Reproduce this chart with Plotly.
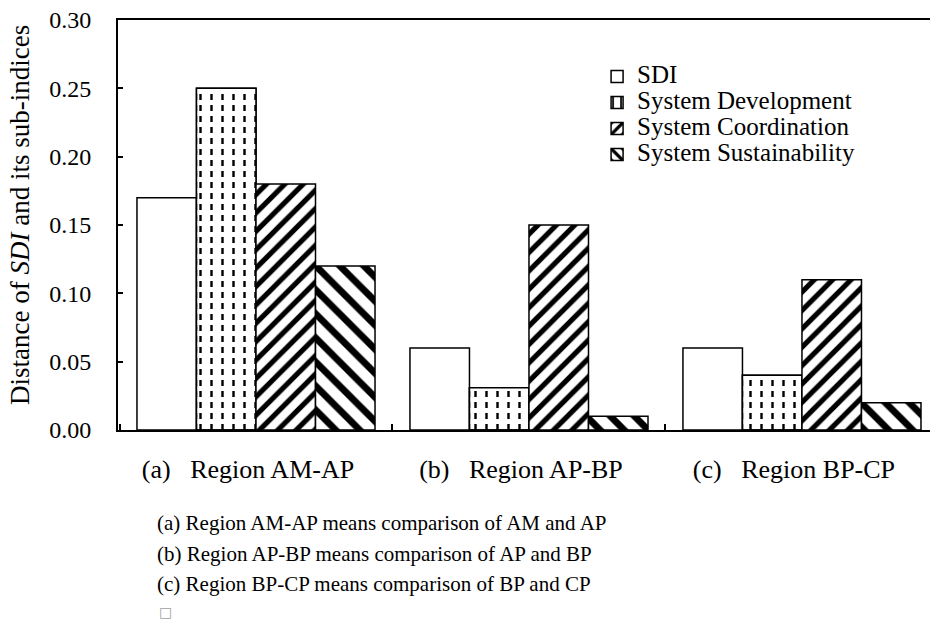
import plotly.graph_objects as go

categories = ["(a)\u00a0\u00a0\u00a0Region AM-AP", "(b)\u00a0\u00a0\u00a0Region AP-BP", "(c)\u00a0\u00a0\u00a0Region BP-CP"]
series_names = ["SDI", "System Development", "System Coordination", "System Sustainability"]
sdi = [0.17, 0.06, 0.06]
dev = [0.25, 0.031, 0.04]
coord = [0.18, 0.15, 0.11]
sust = [0.12, 0.01, 0.02]
notes = [
    "(a) Region AM-AP means comparison of AM and AP",
    "(b) Region AP-BP means comparison of AP and BP",
    "(c) Region BP-CP means comparison of BP and CP",
]

FONT = "Liberation Serif, Times New Roman, serif"
BW = 0.218
OFF0 = -2 * BW
LINE = dict(color="black", width=1.5)


def lg(name):
    return '<span style="font-size:25px">' + name + '</span>'


fig = go.Figure()
fig.add_trace(go.Bar(name=lg(series_names[0]), x=categories, y=sdi, width=BW, offset=OFF0,
                     marker=dict(color="white", line=LINE)))
fig.add_trace(go.Bar(name=lg(series_names[1]), x=categories, y=dev, width=BW, offset=OFF0 + BW,
                     marker=dict(color="white", line=LINE,
                                 pattern=dict(shape="|", size=11, solidity=0.22, fgcolor="black",
                                              bgcolor="white", fillmode="replace"))))
fig.add_trace(go.Bar(x=categories, y=dev, width=BW, offset=OFF0 + BW, showlegend=False,
                     marker=dict(color="white", line=dict(width=0),
                                 pattern=dict(shape="-", size=11, solidity=0.45, fgcolor="white",
                                              bgcolor="rgba(0,0,0,0)", fillmode="replace"))))
fig.add_trace(go.Bar(x=categories, y=dev, width=BW, offset=OFF0 + BW, showlegend=False,
                     marker=dict(color="rgba(0,0,0,0)", line=LINE)))
fig.add_trace(go.Bar(name=lg(series_names[2]), x=categories, y=coord, width=BW, offset=OFF0 + 2 * BW,
                     marker=dict(color="white", line=LINE,
                                 pattern=dict(shape="/", size=13, solidity=0.4, fgcolor="black",
                                              bgcolor="white", fillmode="replace"))))
fig.add_trace(go.Bar(name=lg(series_names[3]), x=categories, y=sust, width=BW, offset=OFF0 + 3 * BW,
                     marker=dict(color="white", line=LINE,
                                 pattern=dict(shape="\\", size=17, solidity=0.4, fgcolor="black",
                                              bgcolor="white", fillmode="replace"))))

fig.update_layout(
    width=930, height=623,
    margin=dict(l=118, r=0, t=20, b=193),
    barmode="overlay",
    plot_bgcolor="white", paper_bgcolor="white",
    font=dict(family=FONT, color="black", size=20),
    showlegend=True,
    legend=dict(x=0.590, y=0.906, xanchor="left", yanchor="top",
                bgcolor="rgba(0,0,0,0)", font=dict(family=FONT, size=17.7, color="black"),
                traceorder="normal"),
    hovermode=False,
)
fig.update_xaxes(
    range=[-0.5055, 2.469], showline=True, linecolor="black", linewidth=2, mirror=True,
    ticks="inside", tickson="boundaries", ticklen=6, tickwidth=1.5, tickcolor="black",
    showgrid=False, zeroline=False, tickfont=dict(family=FONT, size=26),
    ticklabelstandoff=15, ticklabelshift=-8,
)
fig.update_yaxes(
    range=[0, 0.3], dtick=0.05, tickformat=".2f", showline=True, linecolor="black", linewidth=2,
    ticks="inside", ticklen=5, tickwidth=1.5, tickcolor="black", showgrid=False, zeroline=False,
    tickfont=dict(family=FONT, size=24), ticklabelstandoff=20,
)

fig.add_annotation(text="Distance of <i>SDI</i> and its sub-indices", textangle=-90,
                   xref="paper", yref="paper", x=0, y=(430 - 215) / 410, xshift=-98,
                   xanchor="center", yanchor="middle", showarrow=False,
                   font=dict(family=FONT, size=27))

note_y = [523, 553.5, 584]
for txt, yp in zip(notes, note_y):
    fig.add_annotation(text=txt, xref="paper", yref="paper", x=0, y=0, xshift=37,
                       yshift=-(yp - 430), xanchor="left", yanchor="middle", showarrow=False,
                       font=dict(family=FONT, size=21))
fig.add_annotation(text="\u25a1", xref="paper", yref="paper", x=0, y=0, xshift=39,
                   yshift=-(612 - 430), xanchor="left", yanchor="middle", showarrow=False,
                   font=dict(family="DejaVu Sans", size=14, color="#a0a0a0"))

fig.write_html("out.html")
